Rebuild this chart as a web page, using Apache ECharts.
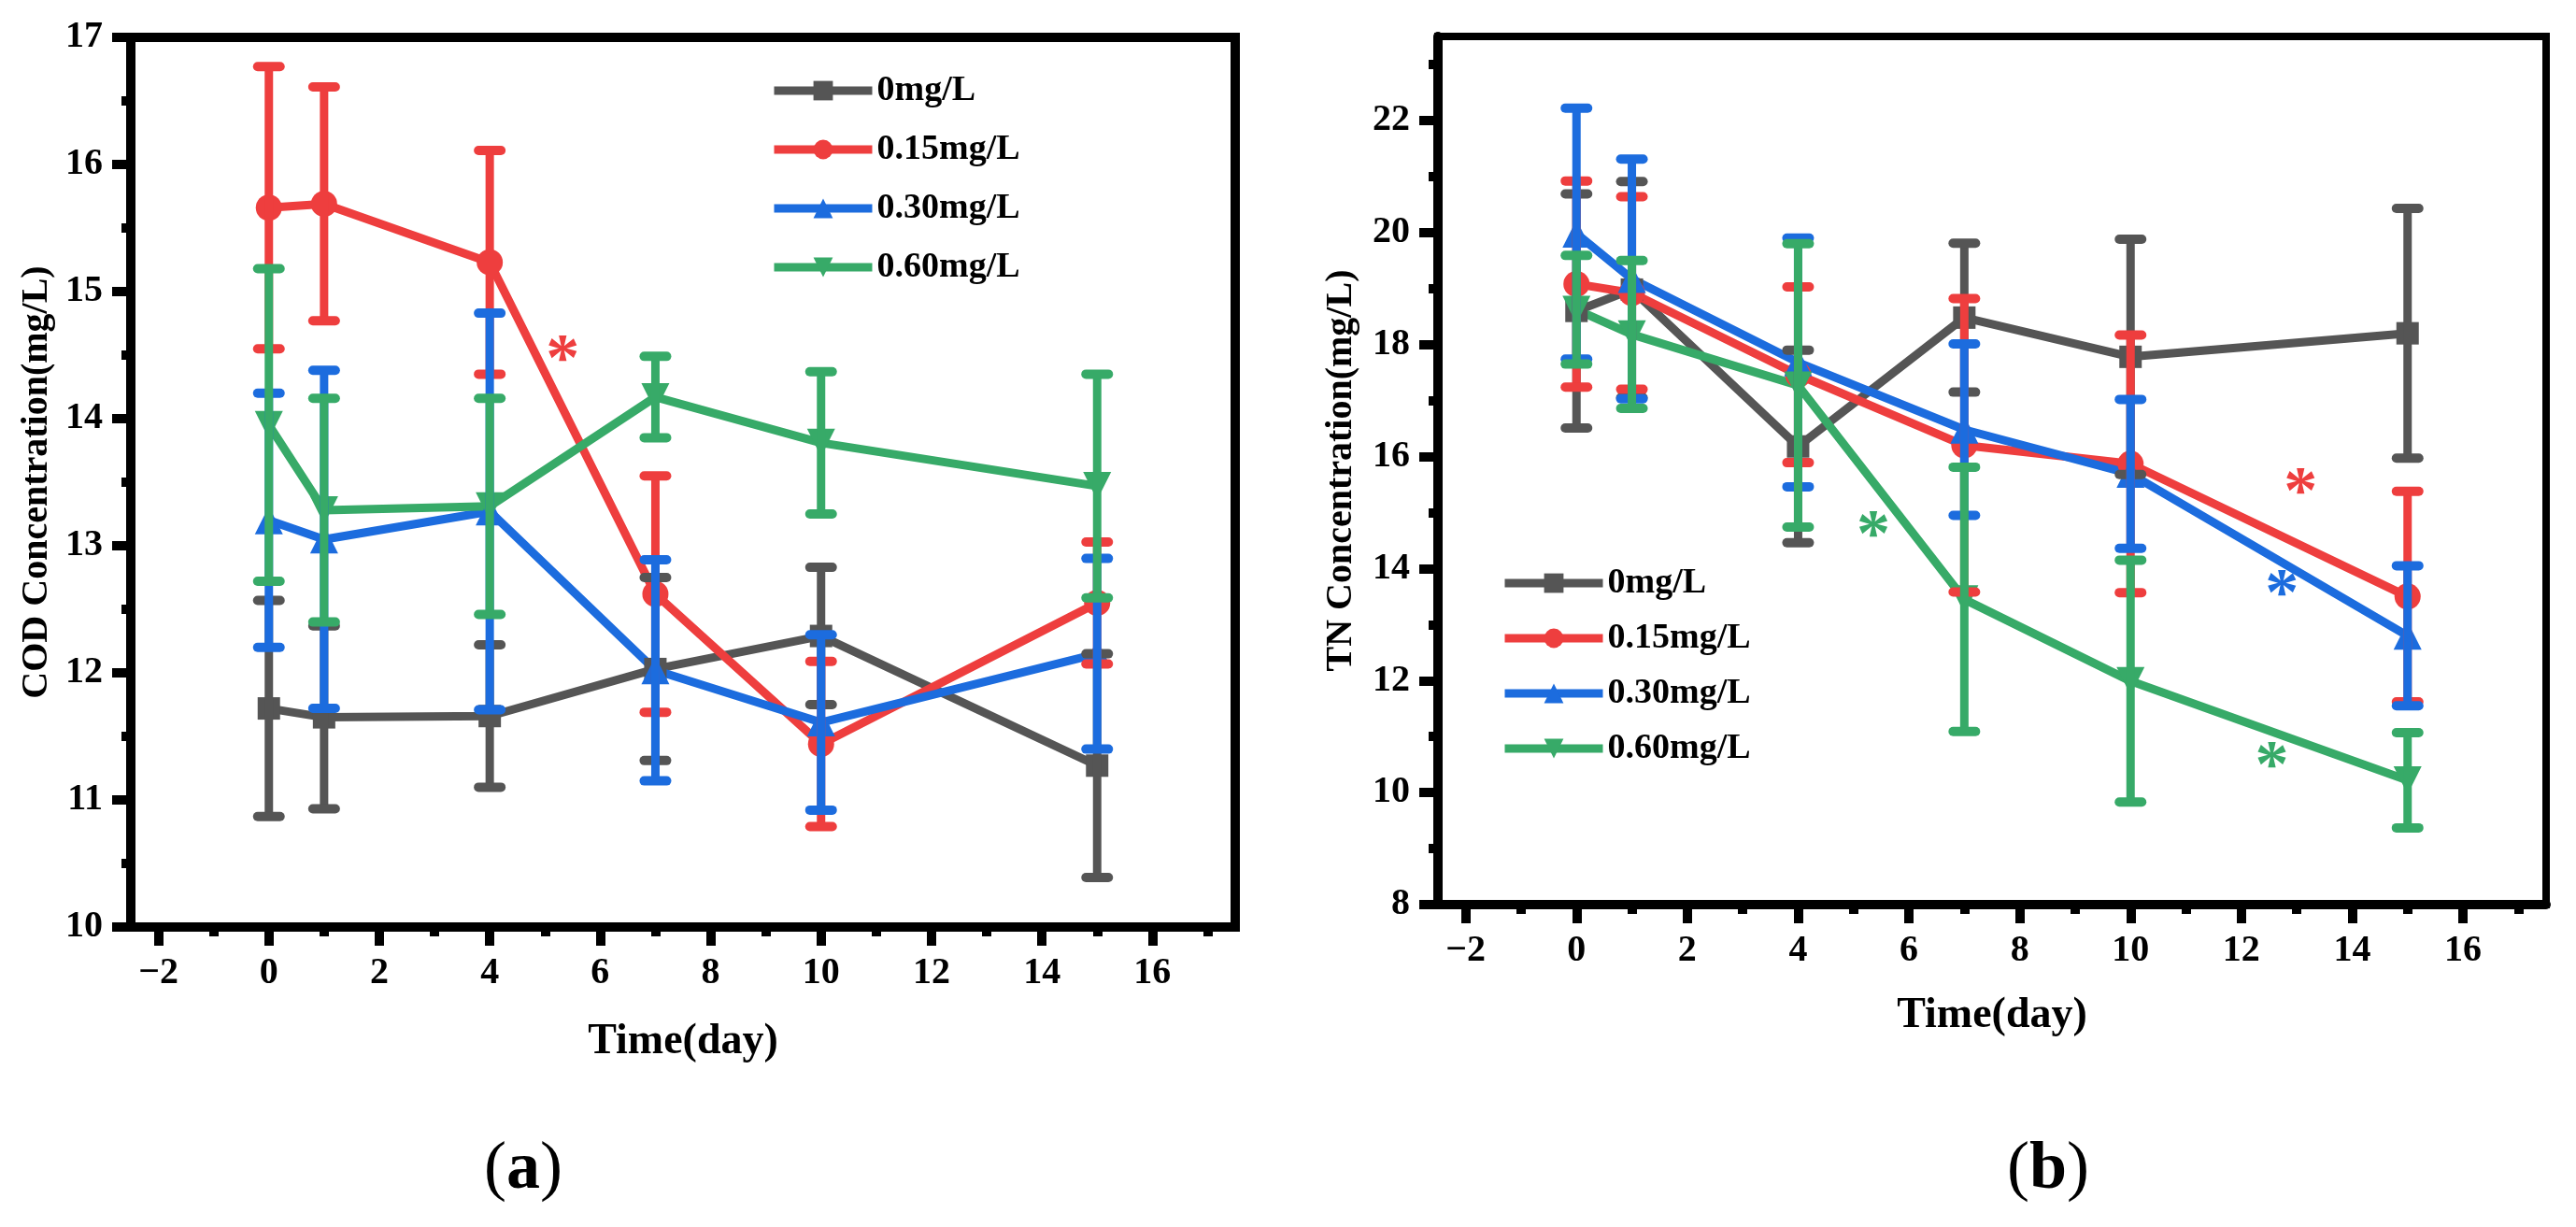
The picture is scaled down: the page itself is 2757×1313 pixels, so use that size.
<!DOCTYPE html>
<html>
<head>
<meta charset="utf-8">
<script src="https://cdn.jsdelivr.net/npm/echarts@6/dist/echarts.min.js"></script>
<style>
  html, body { margin: 0; padding: 0; background: #fff; }
  #main { width: 2757px; height: 1313px; }
</style>
</head>
<body>
<div id="main"></div>
<script>
// sampling days
var days = [0, 1, 4, 7, 10, 15];
var groupNames = ['0mg/L', '0.15mg/L', '0.30mg/L', '0.60mg/L'];

// (a) COD concentration, mean and error (mg/L)
var codMean0 = [11.72, 11.65, 11.66, 12.03, 12.29, 11.27];
var codErr0 = [0.85, 0.72, 0.56, 0.72, 0.54, 0.88];
var codMean15 = [15.66, 15.69, 15.23, 12.62, 11.44, 12.55];
var codErr15 = [1.11, 0.92, 0.88, 0.93, 0.65, 0.48];
var codMean30 = [13.20, 13.05, 13.27, 12.02, 11.61, 12.15];
var codErr30 = [1.00, 1.33, 1.56, 0.87, 0.69, 0.75];
var codMean60 = [13.95, 13.28, 13.31, 14.17, 13.81, 13.47];
var codErr60 = [1.23, 0.88, 0.85, 0.32, 0.56, 0.88];

// (b) TN concentration, mean and error (mg/L)
var tnMean0 = [18.60, 18.98, 16.18, 18.48, 17.78, 18.20];
var tnErr0 = [2.09, 1.93, 1.72, 1.33, 2.10, 2.23];
var tnMean15 = [19.08, 18.92, 17.46, 16.20, 15.87, 13.50];
var tnErr15 = [1.84, 1.72, 1.57, 2.62, 2.30, 1.88];
var tnMean30 = [19.98, 19.17, 17.68, 16.48, 15.69, 12.80];
var tnErr30 = [2.24, 2.14, 2.22, 1.53, 1.33, 1.25];
var tnMean60 = [18.62, 18.18, 17.27, 13.45, 11.99, 10.22];
var tnErr60 = [0.97, 1.32, 2.53, 2.36, 2.16, 0.85];

// significance marks: [day, value, group]
var codStars = [[5.32, 14.55, 1]];
var tnStars = [[13.07, 15.55, 1], [12.73, 13.73, 2], [5.36, 14.78, 3], [12.55, 10.67, 3]];

// tick values
var xTicks = [-2, 0, 2, 4, 6, 8, 10, 12, 14, 16];
var xMinor = [-1, 1, 3, 5, 7, 9, 11, 13, 15, 17];
var codTicks = [10, 11, 12, 13, 14, 15, 16, 17];
var codMinor = [10.5, 11.5, 12.5, 13.5, 14.5, 15.5, 16.5];
var tnTicks = [8, 10, 12, 14, 16, 18, 20, 22];
var tnMinor = [9, 11, 13, 15, 17, 19, 21, 23];

var colors = ['#555555', '#EE3E3E', '#1C6CDE', '#37AA68'];
var symbols = ['rect', 'circle', 'triangle', 'triangle'];
var symbolRot = [0, 0, 0, 180];
var symbolSizes = [24, 28, 30, 30];
var serif = '"Liberation Serif", "Times New Roman", serif';

var chart = echarts.init(document.getElementById('main'));

function fmt(v) {
  return String(v).replace('-', '\u2212');
}

function mainAxis(grid, pos, min, max, ticks, name, gap, nameSize) {
  return {
    type: 'value', gridIndex: grid, position: pos, min: min, max: max,
    name: name, nameLocation: 'middle', nameGap: gap,
    nameTextStyle: { fontFamily: serif, fontWeight: 'bold', fontSize: nameSize, color: '#000' },
    axisLine: { show: true, onZero: false, lineStyle: { color: '#000', width: 10 } },
    axisTick: { show: true, customValues: ticks, length: 20, lineStyle: { color: '#000', width: 10 } },
    axisLabel: { customValues: ticks, margin: 30, fontFamily: serif, fontWeight: 'bold', fontSize: 40, color: '#000', formatter: fmt },
    splitLine: { show: false }
  };
}

function minorAxis(grid, pos, min, max, ticks) {
  return {
    type: 'value', gridIndex: grid, position: pos, min: min, max: max,
    axisLine: { show: false, onZero: false },
    axisTick: { show: true, customValues: ticks, length: 10, lineStyle: { color: '#000', width: 10 } },
    axisLabel: { show: false },
    splitLine: { show: false }
  };
}

function lineSeries(grid, g, mean) {
  return {
    type: 'line', name: groupNames[g],
    xAxisIndex: grid * 2, yAxisIndex: grid * 2,
    data: days.map(function (d, i) { return [d, mean[i]]; }),
    symbol: symbols[g], symbolRotate: symbolRot[g], symbolSize: symbolSizes[g],
    lineStyle: { color: colors[g], width: 9 },
    itemStyle: { color: colors[g] },
    z: 2
  };
}

function errSeries(grid, g, mean, err) {
  var c = colors[g];
  return {
    type: 'custom', name: groupNames[g] + ' SD',
    xAxisIndex: grid * 2, yAxisIndex: grid * 2,
    data: days.map(function (d, i) { return [d, mean[i] - err[i], mean[i] + err[i]]; }),
    encode: { x: 0, y: [1, 2] },
    renderItem: function (params, api) {
      var top = api.coord([api.value(0), api.value(2)]);
      var bot = api.coord([api.value(0), api.value(1)]);
      var hw = 12;
      return {
        type: 'group',
        children: [
          { type: 'line', shape: { x1: top[0], y1: top[1], x2: bot[0], y2: bot[1] }, style: { stroke: c, lineWidth: 9 } },
          { type: 'line', shape: { x1: top[0] - hw, y1: top[1], x2: top[0] + hw, y2: top[1] }, style: { stroke: c, lineWidth: 10, lineCap: 'round' } },
          { type: 'line', shape: { x1: bot[0] - hw, y1: bot[1], x2: bot[0] + hw, y2: bot[1] }, style: { stroke: c, lineWidth: 10, lineCap: 'round' } }
        ]
      };
    },
    z: 3
  };
}

function starSeries(grid, stars) {
  return {
    type: 'custom', name: 'stars',
    xAxisIndex: grid * 2, yAxisIndex: grid * 2,
    data: stars,
    encode: { x: 0, y: 1 },
    renderItem: function (params, api) {
      var p = api.coord([api.value(0), api.value(1)]);
      return {
        type: 'text', x: p[0], y: p[1] + 14,
        style: { text: '*', fill: colors[api.value(2)], font: 'bold 72px ' + serif, align: 'center', verticalAlign: 'middle' }
      };
    },
    z: 4
  };
}

var legendText = { fontFamily: serif, fontWeight: 'bold', fontSize: 38, color: '#000' };

var series = [];
var codMeans = [codMean0, codMean15, codMean30, codMean60];
var codErrs = [codErr0, codErr15, codErr30, codErr60];
var tnMeans = [tnMean0, tnMean15, tnMean30, tnMean60];
var tnErrs = [tnErr0, tnErr15, tnErr30, tnErr60];
for (var g = 0; g < 4; g++) {
  series.push(lineSeries(0, g, codMeans[g]));
  series.push(lineSeries(1, g, tnMeans[g]));
}
for (var g = 0; g < 4; g++) {
  series.push(errSeries(0, g, codMeans[g], codErrs[g]));
  series.push(errSeries(1, g, tnMeans[g], tnErrs[g]));
}
series.push(starSeries(0, codStars));
series.push(starSeries(1, tnStars));

var option = {
  animation: false,
  backgroundColor: '#fff',
  grid: [
    { left: 140, top: 40, width: 1182, height: 952, show: true, borderColor: '#000', borderWidth: 10 },
    { left: 1539, top: 39, width: 1186, height: 929, show: true, borderColor: '#000', borderWidth: 8 }
  ],
  xAxis: [
    mainAxis(0, 'bottom', -2.5, 17.5, xTicks, 'Time(day)', 100, 46),
    minorAxis(0, 'bottom', -2.5, 17.5, xMinor),
    mainAxis(1, 'bottom', -2.5, 17.5, xTicks, 'Time(day)', 96, 46),
    minorAxis(1, 'bottom', -2.5, 17.5, xMinor)
  ],
  yAxis: [
    mainAxis(0, 'left', 10, 17, codTicks, 'COD Concentration(mg/L)', 80, 40),
    minorAxis(0, 'left', 10, 17, codMinor),
    mainAxis(1, 'left', 8, 23.5, tnTicks, 'TN Concentration(mg/L)', 83, 40),
    minorAxis(1, 'left', 8, 23.5, tnMinor)
  ],
  legend: [
    { data: groupNames, orient: 'vertical', left: 824, top: 78, padding: 0, itemWidth: 105, itemHeight: 26, itemGap: 25,
      lineStyle: { width: 9 }, textStyle: legendText },
    { data: groupNames, orient: 'vertical', left: 1606, top: 605, padding: 0, itemWidth: 105, itemHeight: 26, itemGap: 21,
      lineStyle: { width: 9 }, textStyle: legendText }
  ],
  graphic: [
    { type: 'text', x: 560, y: 1252, style: { text: '{p|(}{b|a}{p|)}', align: 'center', verticalAlign: 'middle',
      rich: { p: { font: '72px ' + serif, fill: '#000' }, b: { font: 'bold 72px ' + serif, fill: '#000' } } } },
    { type: 'text', x: 2192, y: 1252, style: { text: '{p|(}{b|b}{p|)}', align: 'center', verticalAlign: 'middle',
      rich: { p: { font: '72px ' + serif, fill: '#000' }, b: { font: 'bold 72px ' + serif, fill: '#000' } } } }
  ],
  series: series
};

chart.setOption(option);
</script>
</body>
</html>
